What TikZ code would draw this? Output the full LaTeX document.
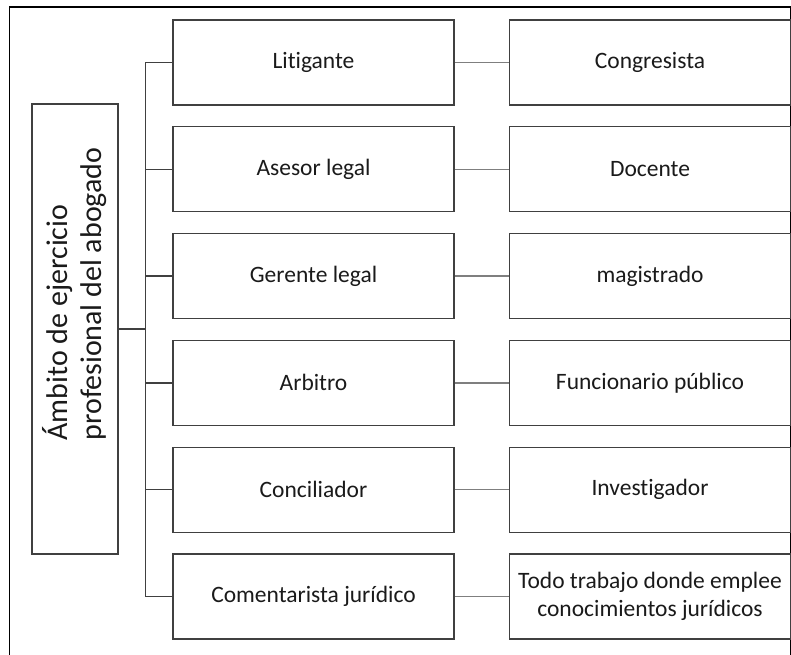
\documentclass[tikz,border=0pt]{standalone}
\usepackage{fontspec}
\setmainfont{Carlito}[Ligatures={NoCommon}]
\usetikzlibrary{calc}
\definecolor{txt}{HTML}{1A1A1A}
\definecolor{edge}{HTML}{404040}
\definecolor{linkc}{HTML}{7F7F7F}
\begin{document}
\begin{tikzpicture}[x=1pt,y=-1pt,
  box/.style={draw=edge, line width=1.1pt, minimum width=281pt, minimum height=85pt,
    inner sep=0pt, align=center, text=txt, font=\fontsize{23.5}{28}\selectfont},
  link/.style={draw=linkc, line width=1.4pt},
  brk/.style={draw=black!75, line width=1.3pt}]
\useasboundingbox (0,0) rectangle (791,654);
\begin{scope}
\clip (0,0) rectangle (791,654);
\draw[line width=1.6pt] (9.5,7) rectangle (790.5,680);
\end{scope}
\node[draw=edge, line width=1.1pt, minimum width=86pt, minimum height=450pt,
  inner sep=0pt] (main) at (75,329) {};
\node[rotate=90, inner sep=0pt, align=left, text=txt,
  font=\fontsize{30}{34}\selectfont]
  (maintext) at (75,294) {Ámbito de ejercicio\\profesional del abogado};
\foreach \i/\a/\b in {0/Litigante/Congresista,
  1/Asesor legal/Docente,
  2/Gerente legal/magistrado,
  3/Arbitro/Funcionario público,
  4/Conciliador/Investigador,
  5/Comentarista jurídico/{Todo trabajo donde emplee\\conocimientos jurídicos}} {
  \node[box] (L\i) at (313.5,{62.5+106.8*\i}) {\a};
  \node[box] (R\i) at (650,{62.5+106.8*\i}) {\b};
  \draw[link] (L\i.east) -- (R\i.west);
}
\coordinate (top) at ($(L0.west)+(-27,0)$);
\coordinate (bot) at ($(L5.west)+(-27,0)$);
\draw[brk] (top) -- (bot);
\draw[brk] (main.east) -- (main.east -| top);
\foreach \i in {0,...,5} {
  \draw[brk] (L\i.west -| top) -- (L\i.west);
}
\end{tikzpicture}
\end{document}
